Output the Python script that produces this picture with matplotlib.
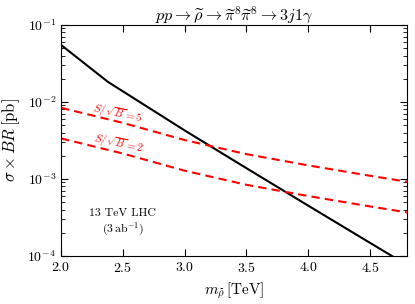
import numpy as np
import matplotlib
matplotlib.use("Agg")
import matplotlib.pyplot as plt

plt.rcParams['mathtext.fontset'] = 'cm'
plt.rcParams['font.family'] = 'cmr10'
plt.rcParams['axes.formatter.use_mathtext'] = True

# signal cross section x BR (pb)
m_sig = [2.0, 2.38, 3.0, 3.5, 4.0, 4.5, 4.8]
xs_sig = [0.055, 0.0182, 4.27e-3, 1.38e-3, 4.5e-4, 1.48e-4, 7.6e-5]

# reach curves
m_reach = [2.0, 2.5, 3.0, 3.5, 4.0, 4.5, 4.8]
xs_5sig = [8.4e-3, 5.35e-3, 3.2e-3, 2.1e-3, 1.5e-3, 1.1e-3, 9.2e-4]
xs_2sig = [3.36e-3, 2.14e-3, 1.28e-3, 8.4e-4, 6.0e-4, 4.4e-4, 3.68e-4]

fig = plt.figure(figsize=(4.15, 3.04), dpi=100)
ax = fig.add_axes([0.147, 0.158, 0.834, 0.76])

ax.plot(m_sig, xs_sig, color='black', lw=1.5)
ax.plot(m_reach, xs_5sig, color='red', lw=1.5, ls='--', dashes=(4, 2.5))
ax.plot(m_reach, xs_2sig, color='red', lw=1.5, ls='--', dashes=(4, 2.5))

ax.set_yscale('log')
ax.set_xlim(2.0, 4.8)
ax.set_ylim(1e-4, 1e-1)
ax.set_xticks([2.0, 2.5, 3.0, 3.5, 4.0, 4.5])
ax.tick_params(which='both', direction='in', top=True, right=True, labelsize=10)
ax.tick_params(which='major', length=5)
ax.tick_params(which='minor', length=3)

ax.text(2.25, 7.4e-3, r'$S/\sqrt{B} = 5$', color='red', fontsize=7.8, rotation=-12,
        rotation_mode='anchor', ha='left', va='baseline')
ax.text(2.258, 3.05e-3, r'$S/\sqrt{B} = 2$', color='red', fontsize=7.8, rotation=-12,
        rotation_mode='anchor', ha='left', va='baseline')
ax.text(2.5, 3.6e-4, '13 TeV LHC', fontsize=8.5, ha='center', va='center')
ax.text(2.5, 2.2e-4, r'$(3\,\mathrm{ab}^{-1})$', fontsize=8.5, ha='center', va='center')

ax.set_title(r'$pp \to \widetilde{\rho} \to \widetilde{\pi}^8\widetilde{\pi}^8 \to 3j1\gamma$',
             fontsize=11.7, pad=2)
ax.set_xlabel(r'$m_{\widetilde{\rho}}\,[\mathrm{TeV}]$', fontsize=11)
ax.set_ylabel(r'$\sigma \times BR\,[\mathrm{pb}]$', fontsize=12)

fig.savefig('out.png', dpi=100)
